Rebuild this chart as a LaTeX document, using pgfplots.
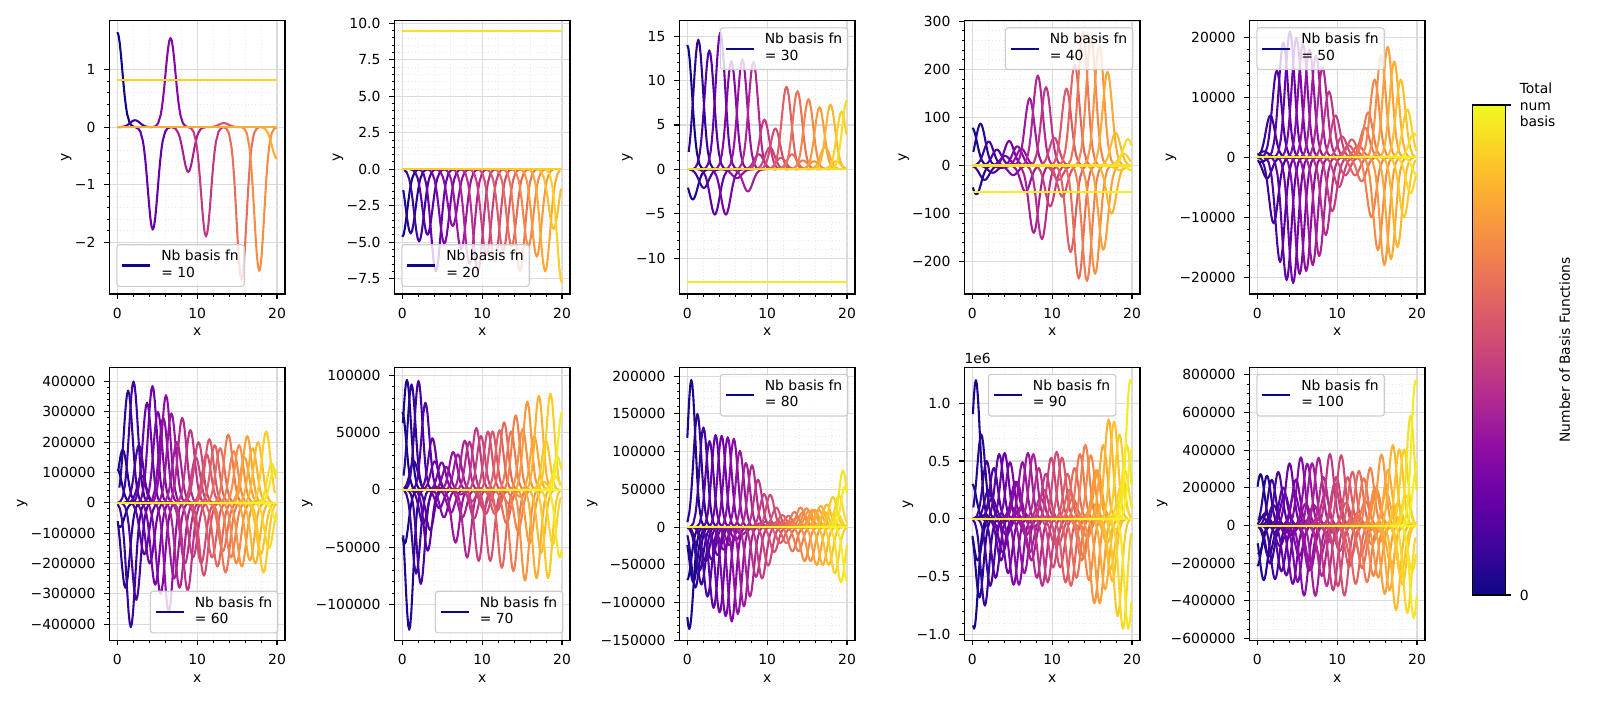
\documentclass[border=0pt]{standalone}
\usepackage{fontspec}
\setmainfont{DejaVu Sans}
\usepackage{pgfplots}
\usepackage{pgfplotstable}
\pgfplotsset{compat=1.18}

\definecolor{pl0}{HTML}{0D0887}
\definecolor{pl1}{HTML}{41049D}
\definecolor{pl2}{HTML}{6A00A8}
\definecolor{pl3}{HTML}{8F0DA4}
\definecolor{pl4}{HTML}{B12A90}
\definecolor{pl5}{HTML}{CC4778}
\definecolor{pl6}{HTML}{E16462}
\definecolor{pl7}{HTML}{F2844B}
\definecolor{pl8}{HTML}{FCA636}
\definecolor{pl9}{HTML}{FCCE25}
\definecolor{pl10}{HTML}{F0F921}
\definecolor{pl11}{HTML}{F0F921}

\pgfdeclareverticalshading{plasmacb}{100bp}{color(0bp)=(pl0); color(25bp)=(pl0); color(30bp)=(pl1); color(35bp)=(pl2); color(40bp)=(pl3); color(45bp)=(pl4); color(50bp)=(pl5); color(55bp)=(pl6); color(60bp)=(pl7); color(65bp)=(pl8); color(70bp)=(pl9); color(75bp)=(pl10); color(100bp)=(pl10)}

% basis function shape, offsets in units of its width
\pgfplotstableread{
d g
-3.5 0.0022
-3.0 0.0111
-2.5 0.0439
-2.0 0.1353
-1.75 0.2163
-1.5 0.3247
-1.25 0.4578
-1.0 0.6065
-0.75 0.7548
-0.5 0.8825
-0.25 0.9692
0 1
0.25 0.9692
0.5 0.8825
0.75 0.7548
1.0 0.6065
1.25 0.4578
1.5 0.3247
1.75 0.2163
2.0 0.1353
2.5 0.0439
3.0 0.0111
3.5 0.0022
}\shapetab

\newcommand\colidx[1]{%
  \pgfmathsetmacro\tv{10*(#1)/(\NN+1)}%
  \pgfmathtruncatemacro\ka{floor(\tv)}%
  \pgfmathtruncatemacro\kb{\ka+1}%
  \pgfmathtruncatemacro\mypc{round(100*(\tv-\ka))}}
\newcommand\bump[2]{%
  \colidx{#1}%
  \pgfmathsetmacro\myc{(#1)*20/(\NN-1)}%
  \edef\tmp{\noexpand\addplot[forget plot, restrict x to domain=0:20, color=pl\kb!\mypc!pl\ka] table[x expr=\noexpand\thisrow{d}*\sg+\myc, y expr=\noexpand\thisrow{g}*(#2)] {\noexpand\shapetab};}%
  \tmp}
\newcommand\hln[2]{%
  \colidx{#1}%
  \edef\tmp{\noexpand\addplot[forget plot, color=pl\kb!\mypc!pl\ka] coordinates {(0,#2) (20,#2)};}%
  \tmp}
\newcommand\bumps[1]{\foreach \va [count=\vi from 0] in {#1} {\bump{\vi}{\va}}}
\protected\def\legtxt#1{{\fontsize{10}{12}\selectfont\begin{tabular}{@{}l@{}}Nb basis fn\\= #1\end{tabular}}}
% legend box: #1 number, #2 anchor, #3 position in axis units
\newcommand\nbleg[3]{\node[draw=black!20, line width=0.8pt, fill=white, fill opacity=0.8, text opacity=1, rounded corners=2pt, inner xsep=4pt, inner ysep=3pt, anchor=#2, font=\fontsize{10}{12}\selectfont] at (rel axis cs:#3) {\textcolor{pl0}{\rule[1.75pt]{20pt}{1.5pt}}\hspace{8pt}\legtxt{#1}};}

\pgfplotsset{
  pan/.style={
    scale only axis, width=126.5pt, height=196.8pt, anchor=south west,
    clip mode=individual,
    xmin=-1, xmax=21, xtick={0,10,20}, xticklabels={0,10,20},
    minor x tick num=4, minor y tick num=4,
    tick pos=left, tick align=outside,
    major tick length=3.5pt, minor tick length=2pt,
    major tick style={black, line width=0.8pt},
    minor tick style={black, line width=0.6pt},
    grid=both,
    major grid style={black!14, line width=0.8pt},
    minor grid style={black!8, line width=0.5pt, dotted},
    axis line style={line width=0.8pt},
    xlabel={x}, ylabel={y},
    ylabel style={at={(ticklabel cs:0.5,-4.5pt)}},
    scaled ticks=false,
    xticklabel shift=3pt, yticklabel shift=3pt,
    tick label style={font=\fontsize{10}{12}\selectfont},
    label style={font=\fontsize{10}{12}\selectfont},
    every axis plot/.append style={line width=1.5pt, line join=round},
  },
}

\begin{document}
\begin{tikzpicture}
\useasboundingbox (0,0) rectangle (1152pt,504pt);

% ---------------- N = 10
\def\NN{10}\def\sg{0.62}
\begin{axis}[pan, at={(78.7pt,292.3pt)}, ymin=-2.9, ymax=1.85, ytick={-2,-1,0,1}, yticklabels={−2,−1,0,1}]
\bumps{1.65,0.12,-1.78,1.55,-0.78,-1.9,0.07,-2.65,-2.5,-0.55}
\hln{\NN-1}{0}
\hln{\NN}{0.82}
\nbleg{10}{south west}{0.04,0.026}
\end{axis}

% ---------------- N = 20
\def\NN{20}\def\sg{0.62}
\begin{axis}[pan, at={(283.9pt,292.3pt)}, ymin=-8.56, ymax=10.18, ytick={-7.5,-5,-2.5,0,2.5,5,7.5,10}, yticklabels={−7.5,−5.0,−2.5,0.0,2.5,5.0,7.5,10.0}]
\bumps{-4.64,-4.4,-4.95,-4.5,-7.0,-5.1,-3.9,-5.5,-6.5,-7.0,-5.9,-6.3,-5.6,-5.3,-7.0,-5.3,-6.0,-7.0,-4.1,-7.8}
\hln{\NN-1}{0}
\hln{\NN}{9.45}
\nbleg{20}{south west}{0.04,0.026}
\end{axis}

% ---------------- N = 30
\def\NN{30}\def\sg{0.6}
\begin{axis}[pan, at={(489.1pt,292.3pt)}, ymin=-14.04, ymax=16.74, ytick={-10,-5,0,5,10,15}, yticklabels={−10,−5,0,5,10,15}]
\bumps{14.0,-3.4,14.6,-2.1,13.4,-5.1,15.4,-5.1,12.2,-1.0,12.4,-2.5,12.1,1.7,5.6,2.5,4.6,1.3,9.3,1.7,8.8,1.0,7.9,0.9,7.0,2.5,7.3,0.9,6.5,7.8}
\hln{\NN-1}{0}
\hln{\NN}{-12.7}
\nbleg{30}{north east}{0.962,0.976}
\end{axis}

% ---------------- N = 40
\def\NN{40}\def\sg{0.6}
\begin{axis}[pan, at={(694.3pt,292.3pt)}, ymin=-267, ymax=301, ytick={-200,-100,0,100,200,300}, yticklabels={−200,−100,0,100,200,300}]
\bumps{78,-60,87,-30,50,-15,33,-5,20,51,-20,40,35,-55,140,-140,187,-153,163,-85,58,-30,-65,160,-180,210,-235,277,-240,265,-225,250,-175,195,-100,68,-10,25,55,-10}
\hln{\NN-1}{0}
\hln{\NN}{-55}
\nbleg{40}{north east}{0.962,0.976}
\end{axis}

% ---------------- N = 50
\def\NN{50}\def\sg{0.58}
\begin{axis}[pan, at={(899.5pt,292.3pt)}, ymin=-22830, ymax=22830, ytick={-20000,-10000,0,10000,20000}, yticklabels={−20000,−10000,0,10000,20000}]
\bumps{500,-800,1000,-3500,7000,-11000,14500,-17500,19200,-20500,21000,-21000,20000,-19500,19000,-19000,18000,-18000,17000,-16500,15000,-13000,11000,-9000,7000,-5000,3500,-3000,2000,3000,-3000,2000,-4000,5000,7500,-10000,13000,-15500,17000,-18000,18500,-17000,16000,-15000,13000,-10000,8000,-6000,4000,-3000}
\hln{\NN-1}{0}
\hln{\NN}{0}
\nbleg{50}{north west}{0.04,0.976}
\end{axis}

% ---------------- N = 60
\def\NN{60}\def\sg{0.55}
\begin{axis}[pan, at={(78.7pt,42.8pt)}, ymin=-454000, ymax=447000, ytick={-400000,-300000,-200000,-100000,0,100000,200000,300000,400000}, yticklabels={−400000,−300000,−200000,−100000,0,100000,200000,300000,400000}]
\bumps{110000,-80000,175000,-280000,370000,-410000,400000,-320000,190000,90000,-170000,330000,-200000,385000,-270000,300000,-300000,280000,355000,-360000,295000,-250000,200000,-280000,280000,-200000,-290000,240000,-180000,150000,200000,-200000,-240000,160000,210000,-180000,190000,-210000,180000,-160000,-230000,225000,-180000,170000,-200000,190000,-210000,150000,220000,-190000,180000,-200000,200000,-170000,-230000,235000,-150000,130000,110000,-60000}
\hln{\NN-1}{0}
\hln{\NN}{0}
\nbleg{60}{south east}{0.962,0.026}
\end{axis}

% ---------------- N = 70
\def\NN{70}\def\sg{0.5}
\begin{axis}[pan, at={(283.9pt,42.8pt)}, ymin=-131400, ymax=107000, ytick={-100000,-50000,0,50000,100000}, yticklabels={−100000,−50000,0,50000,100000}]
\bumps{68000,-47000,96000,-122000,92000,25000,-73000,95000,-82000,-30000,76000,-53000,-35000,45000,25000,2000,-16000,24000,-24000,20000,0,-20000,33000,-46000,31000,-4000,-24000,43000,-59000,42000,-10000,-25000,54000,-62000,47000,-16000,-21000,51000,-62000,51000,-21000,-18000,52000,-68000,59000,-29000,-12000,51000,-71000,65000,-36000,-6000,53000,-79000,77000,-47000,0,47000,-77000,82000,-55000,7000,43000,-77000,84000,-48000,12000,29000,-59000,68000}
\hln{\NN-1}{0}
\hln{\NN}{0}
\nbleg{70}{south east}{0.962,0.026}
\end{axis}

% ---------------- N = 80
\def\NN{80}\def\sg{0.5}
\begin{axis}[pan, at={(489.1pt,42.8pt)}, ymin=-150200, ymax=211800, ytick={-150000,-100000,-50000,0,50000,100000,150000,200000}, yticklabels={−150000,−100000,−50000,0,50000,100000,150000,200000}]
\bumps{-70000,-135000,195000,-73000,-80000,150000,-58000,-76000,132000,-45000,-92000,114000,-43000,-107000,122000,-37000,-113000,121000,-30000,-118000,119000,-24000,-125000,117000,-17000,-115000,101000,-10000,-105000,85000,-3000,-92000,82000,2000,-66000,63000,5000,-68000,44000,7000,-51000,43000,6000,-33000,26000,8000,-21000,16000,6000,-21000,15000,7000,-32000,20000,12000,-32000,26000,19000,-45000,25000,21000,-45000,23000,23000,-50000,23000,28000,-50000,20000,30000,-50000,18000,40000,-61000,19000,42000,-73000,75000,54000,-72000}
\hln{\NN-1}{0}
\hln{\NN}{0}
\nbleg{80}{north east}{0.962,0.976}
\end{axis}

% ---------------- N = 90  (values in units of 1e6)
\def\NN{90}\def\sg{0.5}
\begin{axis}[pan, at={(694.3pt,42.8pt)}, ymin=-1.052, ymax=1.311, ytick={-1,-0.5,0,0.5,1}, yticklabels={−1.0,−0.5,0.0,0.5,1.0}]
\bumps{0.3,-0.95,1.2,-0.36,-0.68,0.73,0.03,-0.75,0.5,0.25,-0.58,0.18,0.44,-0.51,-0.06,0.56,-0.36,-0.29,0.57,-0.14,-0.47,0.49,0.1,-0.57,0.32,0.32,-0.57,0.1,0.49,-0.47,-0.14,0.57,-0.29,-0.36,0.56,-0.06,-0.51,0.44,0.18,-0.58,0.25,0.39,-0.55,0.02,0.53,-0.42,-0.22,0.58,-0.22,-0.42,0.53,0.02,-0.55,0.39,0.25,-0.58,0.18,0.44,-0.51,-0.06,0.56,-0.36,-0.33,0.64,-0.16,-0.53,0.55,0.13,-0.73,0.42,0.42,-0.73,0.13,0.64,-0.61,-0.21,0.86,-0.44,-0.54,0.84,-0.09,-0.84,0.73,0.29,-0.95,0.42,0.64,-0.95,1.2,0.6}
\hln{\NN-1}{0}
\hln{\NN}{0}
\nbleg{90}{north}{0.5,0.976}
\node[anchor=base west, inner sep=0pt, yshift=3pt, font=\fontsize{10}{12}\selectfont] at (rel axis cs:0,1) {1e6};
\end{axis}

% ---------------- N = 100
\def\NN{100}\def\sg{0.5}
\begin{axis}[pan, at={(899.5pt,42.8pt)}, ymin=-610600, ymax=840700, minor y tick num=3, ytick={-600000,-400000,-200000,0,200000,400000,600000,800000}, yticklabels={−600000,−400000,−200000,0,200000,400000,600000,800000}]
\bumps{-215000,-149000,273000,45000,-290000,65000,265000,-166000,-202000,243000,109000,-285000,20000,285000,-109000,-243000,202000,166000,-265000,-65000,330000,-51000,-310000,170000,245000,-300000,-164000,362000,26000,-372000,116000,328000,-241000,-236000,331000,110000,-373000,33000,360000,-170000,-268000,257000,170000,-322000,-47000,380000,-92000,-344000,223000,259000,-322000,-136000,374000,-6000,-372000,121000,257000,-219000,-173000,286000,64000,-310000,54000,290000,-164000,-227000,251000,131000,-301000,-16000,307000,-101000,-268000,203000,191000,-276000,-86000,378000,-40000,-363000,178000,295000,-345000,-218000,428000,55000,-449000,117000,405000,-271000,-314000,403000,161000,-464000,16000,584000,-244000,-491000,770000,330000}
\hln{\NN-1}{0}
\hln{\NN}{0}
\nbleg{100}{north west}{0.04,0.976}
\end{axis}

% ---------------- colour bar
\begin{axis}[at={(1060.5pt,75.6pt)}, anchor=south west, scale only axis, width=23.7pt, height=352.8pt,
  xmin=0, xmax=1, ymin=0, ymax=1, xtick=\empty, ytick={0,1}, yticklabels={0,{Total\\num\\basis}},
  yticklabel style={align=left, font=\fontsize{10}{12}\selectfont},
  ytick pos=right, yticklabel pos=right, tick align=outside, major tick length=3.5pt,
  major tick style={black, line width=0.8pt}, axis line style={line width=0.8pt}, axis on top,
  yticklabel shift=3pt, minor y tick num=0,
  ylabel={Number of Basis Functions},
  ylabel style={font=\fontsize{10}{12}\selectfont, at={(axis description cs:2.79,0.5)}, anchor=center, rotate=0}]
\shade[shading=plasmacb] (rel axis cs:0,0) rectangle (rel axis cs:1,1);
\end{axis}
\end{tikzpicture}
\end{document}
